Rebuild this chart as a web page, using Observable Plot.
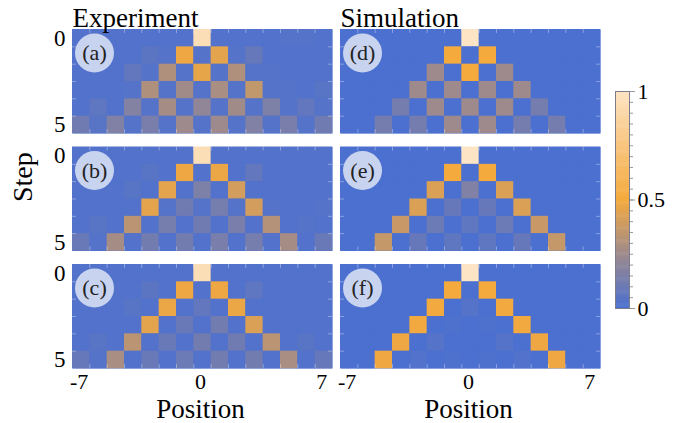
<!DOCTYPE html>
<html><head><meta charset="utf-8">
<script src="https://cdn.jsdelivr.net/npm/d3@7"></script>
<script src="https://cdn.jsdelivr.net/npm/@observablehq/plot@0.6"></script>
<style>
body{margin:0;background:#fff;}
#wrap{position:relative;width:681px;height:423px;font-family:"Liberation Serif",serif;}
#cbar{position:absolute;left:600px;top:80px;}
svg text{font-family:"Liberation Serif",serif !important;}
</style></head><body><div id="wrap"><div id="main"></div><div id="cbar"></div></div>
<script>
// ---- data ----
const positions = [-7,-6,-5,-4,-3,-2,-1,0,1,2,3,4,5,6,7];
const steps = [0,1,2,3,4,5];
const xTicks = [-7,0,7];
const yTicks = [0,5];
const cbTicks = [0,0.5,1];
const columns = ["Experiment","Simulation"];
const rowIds = ["top","middle","bottom"];
const panelLabels = ["(a)","(b)","(c)","(d)","(e)","(f)"];

const expA = [
  [.02,.02,.02,.02,.02,.02,.02,.95,.02,.02,.02,.02,.03,.03,.02],
  [.02,.02,.02,.02,.05,.03,.48,.03,.45,.03,.08,.02,.02,.02,.02],
  [.02,.02,.02,.07,.03,.30,.03,.46,.03,.30,.03,.03,.02,.02,.02],
  [.02,.02,.02,.03,.30,.03,.26,.03,.28,.03,.35,.03,.03,.02,.04],
  [.02,.06,.02,.17,.03,.27,.03,.21,.03,.26,.03,.15,.03,.07,.03],
  [.11,.04,.16,.03,.14,.03,.25,.03,.25,.03,.16,.03,.14,.03,.11]
];
const expB = [
  [.02,.02,.02,.02,.02,.02,.02,.95,.02,.02,.02,.02,.02,.02,.02],
  [.02,.02,.02,.02,.04,.02,.48,.02,.47,.02,.07,.02,.02,.02,.02],
  [.02,.02,.02,.04,.02,.45,.02,.15,.02,.40,.02,.02,.02,.02,.02],
  [.02,.02,.02,.02,.45,.03,.11,.03,.13,.03,.40,.03,.02,.02,.03],
  [.02,.04,.02,.33,.02,.13,.02,.11,.02,.14,.02,.31,.02,.03,.02],
  [.09,.03,.27,.02,.12,.02,.12,.02,.14,.02,.13,.02,.27,.02,.09]
];
const expC = [
  [.02,.02,.02,.02,.02,.02,.02,.95,.02,.02,.02,.02,.02,.02,.02],
  [.02,.02,.02,.02,.05,.02,.48,.02,.48,.02,.06,.02,.02,.02,.02],
  [.02,.02,.02,.04,.02,.47,.02,.07,.02,.47,.02,.02,.02,.02,.02],
  [.02,.02,.02,.02,.45,.02,.09,.02,.12,.02,.42,.02,.02,.02,.02],
  [.02,.04,.02,.33,.02,.09,.02,.12,.02,.11,.02,.33,.02,.04,.02],
  [.08,.03,.28,.02,.09,.02,.10,.02,.12,.02,.12,.02,.28,.02,.08]
];
const simD = [
  [0,0,0,0,0,0,0,1,0,0,0,0,0,0,0],
  [0,0,0,0,0,0,.5,0,.5,0,0,0,0,0,0],
  [0,0,0,0,0,.25,0,.5,0,.25,0,0,0,0,0],
  [0,0,0,0,.25,0,.25,0,.25,0,.25,0,0,0,0],
  [0,0,0,.125,0,.25,0,.25,0,.25,0,.125,0,0,0],
  [0,0,.125,0,.125,0,.25,0,.25,0,.125,0,.125,0,0]
];
const simE = [
  [0,0,0,0,0,0,0,1,0,0,0,0,0,0,0],
  [0,0,0,0,0,0,.5,0,.5,0,0,0,0,0,0],
  [0,0,0,0,0,.42,0,.16,0,.42,0,0,0,0,0],
  [0,0,0,0,.42,0,.08,0,.08,0,.42,0,0,0,0],
  [0,0,0,.37,0,.1,0,.06,0,.1,0,.37,0,0,0],
  [0,0,.36,0,.08,0,.06,0,.06,0,.08,0,.36,0,0]
];
const simF = [
  [0,0,0,0,0,0,0,1,0,0,0,0,0,0,0],
  [0,0,0,0,0,0,.5,0,.5,0,0,0,0,0,0],
  [0,0,0,0,0,.49,0,.03,0,.49,0,0,0,0,0],
  [0,0,0,0,.49,0,.01,0,.01,0,.49,0,0,0,0],
  [0,0,0,.48,0,.03,0,0,0,.03,0,.48,0,0,0],
  [0,0,.48,0,.02,0,.01,0,.01,0,.02,0,.48,0,0]
];

// ---- tables built from arrays ----
const panels = [
  {col:columns[0], row:rowIds[0], label:panelLabels[0], m:expA},
  {col:columns[0], row:rowIds[1], label:panelLabels[1], m:expB},
  {col:columns[0], row:rowIds[2], label:panelLabels[2], m:expC},
  {col:columns[1], row:rowIds[0], label:panelLabels[3], m:simD},
  {col:columns[1], row:rowIds[1], label:panelLabels[4], m:simE},
  {col:columns[1], row:rowIds[2], label:panelLabels[5], m:simF}
];
const table = panels.flatMap(p => p.m.flatMap((r, si) => r.map((v, pi) => ({col:p.col, row:p.row, step:steps[si], pos:positions[pi], value:v}))));
const titleData = columns.map(c => ({col:c, row:rowIds[0], title:c}));
const posLabelData = columns.map(c => ({col:c, row:rowIds[2], t:"Position"}));
const stepLabelData = [{col:columns[0], row:rowIds[1], t:"Step"}];

const color = {type:"linear", domain:[0,0.25,0.5,0.75,1],
  range:["#4b70d0","#9e8a8c","#f5aa3d","#f9c57f","#fde4c4"], interpolate:"rgb"};

const FONT = "Liberation Serif";
const cw = 260/15;
const tickStyle = {stroke:"white", strokeOpacity:0.35, strokeWidth:1};

const main = Plot.plot({
  width:681, height:423,
  marginLeft:72, marginRight:81, marginTop:29, marginBottom:55,
  style:{fontFamily:FONT, fontSize:"22px", background:"transparent", color:"black", overflow:"visible"},
  x:{type:"band", domain:positions, padding:0, round:false, axis:null},
  y:{type:"band", domain:steps, padding:0, round:false, axis:null},
  fx:{domain:columns, paddingInner:0.03, paddingOuter:0, round:false, axis:null},
  fy:{domain:rowIds, paddingInner:0.115, paddingOuter:0, round:false, axis:null},
  color,
  marks:[
    Plot.frame({fill:"#4b70d0", stroke:"none"}),
    Plot.cell(table, {x:"pos", y:"step", fill:"value", fx:"col", fy:"row", inset:0, insetRight:-0.3, insetBottom:-0.3}),
    // faint frame ticks at cell boundaries
    Plot.tickX(positions.slice(1), {x:d=>d, y:()=>0, dx:-cw/2, insetBottom:cw-4, ...tickStyle}),
    Plot.tickX(positions.slice(1), {x:d=>d, y:()=>5, dx:-cw/2, insetTop:cw-4, ...tickStyle}),
    Plot.tickY(steps.slice(1), {y:d=>d, x:()=>-7, dy:-cw/2, insetRight:cw-4, ...tickStyle}),
    Plot.tickY(steps.slice(1), {y:d=>d, x:()=>7, dy:-cw/2, insetLeft:cw-4, ...tickStyle}),
    Plot.axisX({ticks:xTicks, tickSize:0, tickPadding:5, label:null, facetAnchor:"bottom", fontSize:22, fontFamily:FONT, dx:-2}),
    Plot.axisY({ticks:yTicks, tickSize:0, tickPadding:7, label:null, facetAnchor:"left", fontSize:23, fontFamily:FONT}),
    Plot.text(titleData, {fx:"col", fy:"row", text:"title", frameAnchor:"top-left", textAnchor:"start", lineAnchor:"bottom", dy:-3, fontSize:27, fontFamily:FONT}),
    Plot.text(posLabelData, {fx:"col", fy:"row", text:"t", frameAnchor:"bottom", lineAnchor:"bottom", dy:49, dx:-2, fontSize:27, fontFamily:FONT}),
    Plot.text(stepLabelData, {fx:"col", fy:"row", text:"t", frameAnchor:"left", rotate:-90, dx:-49, dy:3, fontSize:28, fontFamily:FONT}),
    Plot.dot(panels, {fx:"col", fy:"row", x:()=>-6, y:()=>1, dx:-4, dy:-2.5, r:19.5, fill:"#c8d3f0", stroke:"none"}),
    Plot.text(panels, {fx:"col", fy:"row", x:()=>-6, y:()=>1, dx:-4, dy:-2.5, text:"label", fontSize:22, fontFamily:FONT, fill:"#222"})
  ]
});
document.getElementById("main").appendChild(main);

// ---- colorbar ----
const stops = d3.range(0, 1, 0.005);
const cbar = Plot.plot({
  width:80, height:240,
  marginLeft:15, marginRight:51, marginTop:11, marginBottom:12,
  style:{fontFamily:FONT, fontSize:"22px", background:"transparent", color:"black", overflow:"visible"},
  y:{domain:[0,1], axis:null},
  color,
  marks:[
    Plot.rect(stops, {y1:d=>d, y2:d=>Math.min(1, d+0.0075), fill:d=>d+0.0025}),
    Plot.frame({stroke:"#7c7c8c", strokeWidth:1}),
    Plot.axisY({anchor:"right", ticks:d3.range(0, 1.0001, 0.05), tickSize:3, tickFormat:()=>"", stroke:"#999", label:null}),
    Plot.axisY({anchor:"right", ticks:cbTicks, tickSize:5, tickPadding:3, tickFormat:d=>String(d), stroke:"#999", fill:"black", label:null, fontSize:22, fontFamily:FONT})
  ]
});
document.getElementById("cbar").appendChild(cbar);
</script></body></html>
